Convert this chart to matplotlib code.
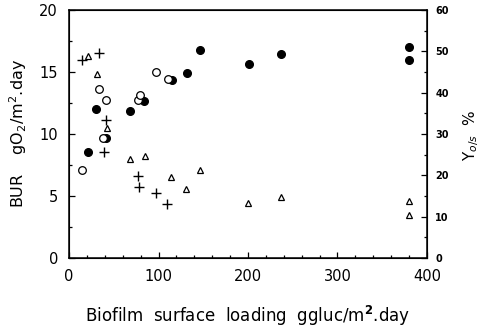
import matplotlib
matplotlib.use("Agg")
import matplotlib.pyplot as plt
from matplotlib.ticker import MultipleLocator

# BUR, filled circles
bur_fill_x = [20.9, 30.2, 41.8, 68.3, 84.3, 115.3, 131.7, 145.9, 200.7, 236.6, 380.2, 380.2]
bur_fill_y = [8.55, 12.0, 9.7, 11.9, 12.7, 14.35, 14.95, 16.75, 15.65, 16.45, 17.0, 16.0]

# BUR, open circles
bur_open_x = [14.2, 33.2, 41.0, 37.7, 76.9, 79.5, 97.4, 110.4]
bur_open_y = [7.1, 13.6, 12.75, 9.7, 12.75, 13.15, 15.0, 14.45]

# BUR, crosses
bur_plus_x = [14.6, 33.2, 41.0, 38.8, 76.9, 78.7, 97.0, 109.3]
bur_plus_y = [16.0, 16.55, 11.15, 8.55, 6.6, 5.75, 5.25, 4.35]

# Yield (right axis), triangles
yld_x = [21.6, 31.0, 42.2, 68.3, 84.7, 114.2, 131.0, 145.9, 200.4, 236.6, 379.5, 379.5]
yld_y = [48.9, 44.6, 31.5, 24.0, 24.8, 19.6, 16.7, 21.4, 13.4, 14.7, 13.8, 10.4]

right_ticks = [0, 10, 20, 30, 40, 50, 60]

fig = plt.figure(figsize=(4.83, 3.27), dpi=100)
ax = fig.add_axes([0.143, 0.211, 0.741, 0.758])
ax2 = ax.twinx()

ax.plot(bur_fill_x, bur_fill_y, "o", color="black", ms=5.5, ls="none")
ax.plot(bur_open_x, bur_open_y, "o", mfc="white", mec="black", mew=0.9, ms=5.5, ls="none")
ax.plot(bur_plus_x, bur_plus_y, "+", color="black", mew=1.0, ms=6.5, ls="none")
ax2.plot(yld_x, yld_y, "^", mfc="white", mec="black", mew=0.9, ms=4.5, ls="none")

ax.set_xlim(0, 400)
ax.set_ylim(0, 20)
ax2.set_ylim(0, 60)

ax.xaxis.set_major_locator(MultipleLocator(100))
ax.xaxis.set_minor_locator(MultipleLocator(20))
ax.yaxis.set_major_locator(MultipleLocator(5))
ax.yaxis.set_minor_locator(MultipleLocator(2.5))
ax2.set_yticks(right_ticks)
ax2.yaxis.set_minor_locator(MultipleLocator(5))

ax.tick_params(which="both", direction="in", top=False, right=False, labelsize=10.5, width=0.9)
ax.tick_params(which="major", length=4, pad=8)
ax.tick_params(which="minor", length=2.5)
ax2.tick_params(which="both", direction="in", labelsize=7, width=0.9)
ax2.tick_params(which="major", length=4, pad=6)
ax2.tick_params(which="minor", length=2.5)
for t in ax2.get_yticklabels():
    t.set_fontweight("bold")

for s in ax.spines.values():
    s.set_linewidth(1.1)

ax.set_xlabel("Biofilm  surface  loading  ggluc/m$^{\\mathbf{2}}$.day", fontsize=12, labelpad=14)
fig.text(18 / 483, 1 - 134 / 327, "BUR    gO$_2$/m$^2$.day", fontsize=11.5,
         rotation=90, ha="center", va="center")
fig.text(471 / 483, 1 - 135 / 327, "Y$_{o/s}$  %", fontsize=11,
         rotation=90, ha="center", va="center")

fig.savefig("out.png", dpi=100)
